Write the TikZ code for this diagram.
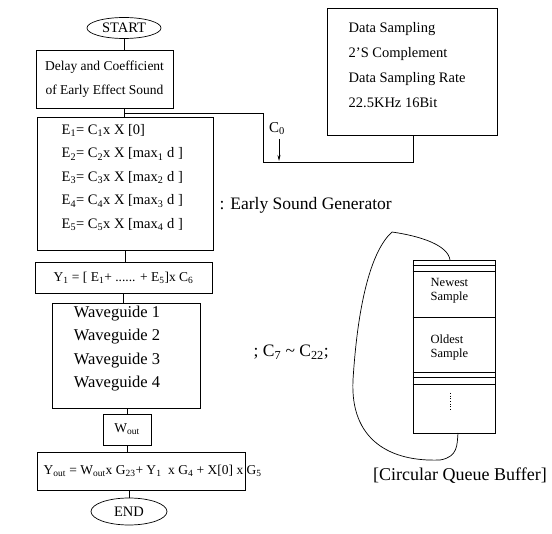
\documentclass[tikz,border=0pt]{standalone}
\usepackage{fontspec}
\setmainfont{Liberation Serif}
\usetikzlibrary{arrows.meta,shapes.geometric}
\begin{document}
\begin{tikzpicture}[x=1pt,y=-1pt,line width=0.7pt,
  flowbox/.style={draw,rectangle,inner sep=0pt,align=center},
  term/.style={draw,ellipse,inner sep=0pt,font=\fontsize{14.5}{16}\selectfont},
  body/.style={font=\fontsize{13.5}{15}\selectfont},
  big/.style={font=\fontsize{17.5}{19}\selectfont},
  small/.style={font=\fontsize{12.5}{14}\selectfont,align=left}]
\useasboundingbox (0,0) rectangle (552,534);

% main flow
\node[term,minimum width=74pt,minimum height=21pt] (start) at (124,28) {START};
\node[flowbox,minimum width=137pt,minimum height=58pt,font=\fontsize{13.5}{24}\selectfont] (delay) at (104.5,79) {Delay and Coefficient\\of Early Effect Sound};
\node[flowbox,minimum width=176pt,minimum height=133pt] (ebox) at (125,183.5) {};
\node[align=left,anchor=west,font=\fontsize{14.5}{23.5}\selectfont] (eqs) at (58,177.5) {%
  E\textsubscript{1}= C\textsubscript{1}x X [0]\\
  E\textsubscript{2}= C\textsubscript{2}x X [max\textsubscript{1} d ]\\
  E\textsubscript{3}= C\textsubscript{3}x X [max\textsubscript{2} d ]\\
  E\textsubscript{4}= C\textsubscript{4}x X [max\textsubscript{3} d ]\\
  E\textsubscript{5}= C\textsubscript{5}x X [max\textsubscript{4} d ]};
\node[flowbox,body,minimum width=177pt,minimum height=31pt] (ybox) at (123.5,277.5)
  {Y\textsubscript{1} = [ E\textsubscript{1}+ ...... + E\textsubscript{5}]x C\textsubscript{6}};
\node[flowbox,minimum width=148pt,minimum height=105pt] (wg) at (126,355.5) {};
\node[align=center,font=\fontsize{16.5}{23.2}\selectfont] (wgtxt) at (117,348.5)
  {Waveguide 1\\Waveguide 2\\Waveguide 3\\Waveguide 4};
\node[flowbox,body,minimum width=48pt,minimum height=31pt] (wout) at (127,429.5) {W\textsubscript{out}};
\node[flowbox,minimum width=208pt,minimum height=38pt] (yout) at (141,471) {};
\node[body,anchor=west] (youttxt) at (40,471)
  {Y\textsubscript{out} = W\textsubscript{out}x G\textsubscript{23}+ Y\textsubscript{1}\ \ x G\textsubscript{4} + X[0] x G\textsubscript{5}};
\node[term,minimum width=76pt,minimum height=27pt] (endn) at (129,511.5) {END};

% flow connectors
\draw (start) -- (start |- delay.north);
\coordinate (tap) at (124,113);
\draw (tap |- delay.south) -- (tap |- ebox.north);
\draw (ebox.south) -- (ebox.south |- ybox.north);
\draw (ybox.south) -- (ybox.south |- wg.north);
\draw (wout.north |- wg.south) -- (wout.north);
\draw (wout.south) -- (wout.south |- yout.north);
\draw (endn.north |- yout.south) -- (endn.north);

% sampling block and coefficient feed
\node[flowbox,minimum width=170pt,minimum height=127pt] (data) at (412,71.5) {};
\node[align=left,anchor=west,font=\fontsize{14.5}{25}\selectfont] (datatxt) at (345,65.5)
  {Data Sampling\\2'S Complement\\Data Sampling Rate\\22.5KHz 16Bit};
\coordinate (drop) at (263,162);
\coordinate (rise) at (413,162);
\draw (tap) -| (drop) -- (rise) -- (rise |- data.south);
\node[font=\fontsize{15}{17}\selectfont] (c0) at (277,129) {C\textsubscript{0}};
\draw[-{Stealth[length=6pt,width=3pt]}] (c0.south -| 279,0) -- (279,161);

% side notes
\node[big,anchor=west] (esg) at (216,205) {: Early Sound Generator};
\node[big,anchor=west] (cnote) at (250,352) {; C\textsubscript{7} \textasciitilde{} C\textsubscript{22};};

% circular queue buffer
\node[draw,rectangle,minimum width=82pt,minimum height=173pt,inner sep=0pt] (buf) at (454,346.5) {};
\foreach \yy in {265,271,317,372,377,384}
  \draw (buf.west |- 0,\yy) -- (buf.east |- 0,\yy);
\node[small,anchor=west] (newest) at (427,291) {Newest\\Sample};
\node[small,anchor=west] (oldest) at (427,347) {Oldest\\Sample};
\draw[dotted] (450,393) -- (450,410);
\coordinate (loopA) at (450,260);
\coordinate (loopB) at (458,433);
\draw (loopA) .. controls (448,245) and (420,236) .. (392,232)
  .. controls (372,250) and (358,300) .. (353,380)
  .. controls (350,440) and (390,462) .. (440,460)
  .. controls (458,457) and (457,445) .. (loopB);
\node[font=\fontsize{18}{20}\selectfont] (buflbl) at (460,476) {[Circular Queue Buffer]};
\end{tikzpicture}
\end{document}
